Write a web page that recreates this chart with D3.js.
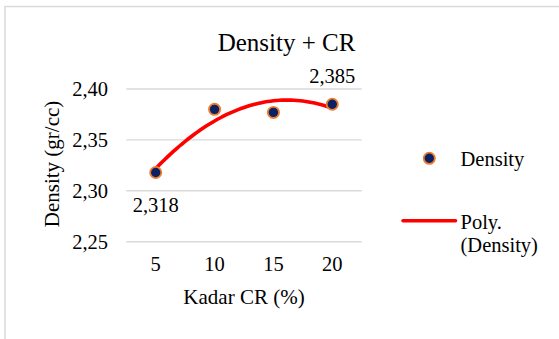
<!DOCTYPE html>
<html>
<head>
<meta charset="utf-8">
<script src="https://cdn.jsdelivr.net/npm/d3@7"></script>
<style>
  body { margin: 0; background: #fff; }
</style>
</head>
<body>
<svg width="559" height="339"></svg>
<script>
const kadar = ["5", "10", "15", "20"];
const density = [2.318, 2.380, 2.377, 2.385];
const yTicks = [2.25, 2.30, 2.35, 2.40];
const labelled = [0, 3]; // indices with data labels

const serif = "Liberation Serif, DejaVu Serif, Tinos, Times New Roman, serif";
const svg = d3.select("svg").style("font-family", serif);
const fmt = d3.formatLocale({ decimal: ",", thousands: ".", grouping: [3], currency: ["", ""] });
const f2 = fmt.format(".2f");
const f3 = fmt.format(".3f");

// chart frame
svg.append("rect")
  .attr("x", 5).attr("y", 6.5)
  .attr("width", 600).attr("height", 400)
  .attr("fill", "#fff")
  .attr("stroke", "#d9d9d9").attr("stroke-width", 1.5);

const x = d3.scaleBand().domain(kadar).range([126.3, 361.7]);
const y = d3.scaleLinear().domain([2.25, 2.40]).range([241.7, 89]);
const cx = d => x(d) + x.bandwidth() / 2;

// gridlines
svg.append("g").selectAll("line")
  .data(yTicks).enter().append("line")
  .attr("x1", x.range()[0]).attr("x2", x.range()[1])
  .attr("y1", d => y(d)).attr("y2", d => y(d))
  .attr("stroke", "#d9d9d9").attr("stroke-width", 1.4);

// y axis labels
const yAxis = svg.append("g")
  .attr("transform", "translate(108,0)")
  .call(d3.axisLeft(y).tickValues(yTicks).tickSize(0).tickPadding(0).tickFormat(f2))
  .attr("font-family", serif).attr("font-size", 20.5);
yAxis.select(".domain").remove();
yAxis.selectAll("text").attr("fill", "#000");

// x axis labels
const xAxis = svg.append("g")
  .attr("transform", "translate(0,256)")
  .call(d3.axisBottom(x).tickSize(0).tickPadding(0))
  .attr("font-family", serif).attr("font-size", 20.5);
xAxis.select(".domain").remove();
xAxis.selectAll("text").attr("fill", "#000");

// titles
const label = (px, py, str, size, anchor) => svg.append("text")
  .attr("x", px).attr("y", py)
  .attr("text-anchor", anchor || "middle")
  .attr("font-family", serif)
  .attr("font-size", size)
  .attr("fill", "#000")
  .text(str);

label(286.5, 51, "Density + CR", 25);
label(244, 303.5, "Kadar CR (%)", 21);
label(0, 0, "Density (gr/cc)", 21).attr("transform", "translate(59,164) rotate(-90)");

// polynomial (order 2) trendline, least squares on category index
const xs = kadar.map((d, i) => i + 1);
const n = xs.length;
const mx = d3.mean(xs);
const my = d3.mean(density);
const t = xs.map(v => v - mx);
const t2m = d3.mean(t.map(v => v * v));
const u = t.map(v => v * v - t2m);
const b = d3.sum(t.map((v, i) => v * density[i])) / d3.sum(t.map(v => v * v));
const c = d3.sum(u.map((v, i) => v * density[i])) / d3.sum(u.map(v => v * v));
const fit = k => my + b * (k - mx) + c * ((k - mx) * (k - mx) - t2m);

const xi = d3.scaleLinear().domain([1, n]).range([cx(kadar[0]), cx(kadar[n - 1])]);
const trend = d3.range(0, 61).map(s => 1 + (n - 1) * s / 60);

svg.append("path")
  .datum(trend)
  .attr("fill", "none")
  .attr("stroke", "#ff0000")
  .attr("stroke-width", 3.6)
  .attr("stroke-linecap", "round")
  .attr("d", d3.line().x(k => xi(k)).y(k => y(fit(k))));

// markers
svg.append("g").selectAll("circle")
  .data(density).enter().append("circle")
  .attr("cx", (d, i) => cx(kadar[i]))
  .attr("cy", d => y(d))
  .attr("r", 5.6)
  .attr("fill", "#0b2161")
  .attr("stroke", "#ed7d31")
  .attr("stroke-width", 1.8);

// data labels
label(cx(kadar[labelled[0]]), y(density[labelled[0]]) + 39.5, f3(density[labelled[0]]), 20.5);
label(cx(kadar[labelled[1]]), y(density[labelled[1]]) - 21.5, f3(density[labelled[1]]), 20.5);

// legend
svg.append("circle")
  .attr("cx", 429.3).attr("cy", 158.3).attr("r", 5.6)
  .attr("fill", "#0b2161").attr("stroke", "#ed7d31").attr("stroke-width", 1.8);
label(460.5, 166, "Density", 20.5, "start");
svg.append("line")
  .attr("x1", 403).attr("x2", 455.5)
  .attr("y1", 220.7).attr("y2", 220.7)
  .attr("stroke", "#ff0000").attr("stroke-width", 3.6)
  .attr("stroke-linecap", "round");
label(460.5, 228.5, "Poly.", 20.5, "start");
label(460.5, 252, "(Density)", 20.5, "start");
</script>
</body>
</html>
